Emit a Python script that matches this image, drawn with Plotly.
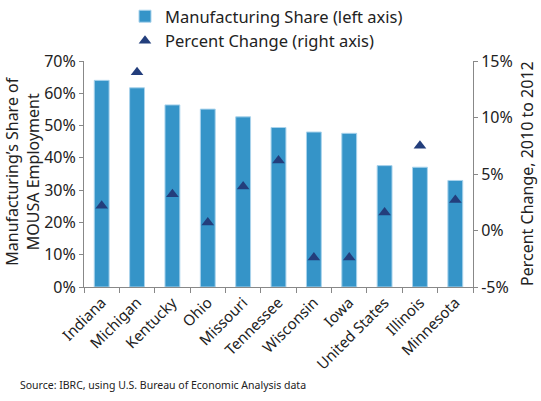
import plotly.graph_objects as go

categories = ["Indiana", "Michigan", "Kentucky", "Ohio", "Missouri", "Tennessee",
              "Wisconsin", "Iowa", "United States", "Illinois", "Minnesota"]
manufacturing_share = [64.0, 61.7, 56.4, 55.1, 52.7, 49.4, 48.0, 47.6, 37.6, 37.1, 33.0]
percent_change = [2.2, 14.0, 3.2, 0.7, 3.9, 6.2, -2.4, -2.4, 1.6, 7.5, 2.7]
left_ticks = [0, 10, 20, 30, 40, 50, 60, 70]
right_ticks = [-5, 0, 5, 10, 15]

FONT = "Noto Sans"
W, H = 541, 401
L, R, T, B = 84, 68, 61, 114
PW, PH = W - L - R, H - T - B

fig = go.Figure()
fig.add_trace(go.Bar(
    x=categories, y=manufacturing_share, name="Manufacturing Share (left axis)",
    marker=dict(color="#3594C8", line=dict(color="#A9D3EC", width=1)),
    width=0.42, yaxis="y",
))
fig.add_trace(go.Scatter(
    x=categories, y=percent_change, name="Percent Change (right axis)",
    mode="markers", marker=dict(symbol="triangle-up", size=11, color="#233E7C"),
    yaxis="y2",
))
fig.update_layout(
    width=W, height=H,
    margin=dict(l=L, r=R, t=T, b=B, autoexpand=False),
    plot_bgcolor="white", paper_bgcolor="white",
    font=dict(family=FONT, size=15, color="#222"),
    showlegend=True,
    legend=dict(x=125 / W, y=(PH + T + 1) / PH, xref="container", yref="paper",
                xanchor="left", yanchor="top",
                font=dict(size=16.5), itemwidth=30, tracegroupgap=0,
                bgcolor="rgba(0,0,0,0)"),
    xaxis=dict(range=[-0.5, len(categories) - 0.5], tickangle=-45, showline=True,
               linecolor="#888", ticks="outside",
               tickson="boundaries", ticklen=5, tickcolor="#888", tickfont=dict(size=15),
               automargin=False),
    yaxis=dict(range=[0, 70], tickvals=left_ticks, ticktext=[f"{v}%" for v in left_ticks],
               showgrid=False, showline=True, linecolor="#888", ticks="outside",
               ticklen=4, tickcolor="#888", zeroline=False, automargin=False,
               tickfont=dict(size=16)),
    yaxis2=dict(range=[-5, 15], tickvals=right_ticks, ticktext=[f"{v}%" for v in right_ticks],
                overlaying="y", side="right", showgrid=False, showline=True, linecolor="#888",
                ticks="outside", ticklen=4, tickcolor="#888", zeroline=False, automargin=False,
                tickfont=dict(size=16)),
    bargap=0.5,
)
fig.add_annotation(text="Manufacturing’s Share of<br>MOUSA Employment", textangle=-90,
                   xref="paper", yref="paper", x=(23 - L) / PW, y=0.51,
                   xanchor="center", yanchor="middle", showarrow=False, font=dict(size=16))
fig.add_annotation(text="Percent Change, 2010 to 2012", textangle=-90,
                   xref="paper", yref="paper", x=(527 - L) / PW, y=0.5,
                   xanchor="center", yanchor="middle", showarrow=False, font=dict(size=16))
fig.add_annotation(text="Source: IBRC, using U.S. Bureau of Economic Analysis data",
                   xref="paper", yref="paper", x=(18 - L) / PW, y=(287 - 385) / PH,
                   xanchor="left", yanchor="middle",
                   showarrow=False, font=dict(size=10.5))
fig.write_html("out.html", config={"displayModeBar": False},
               post_script="document.body.style.margin='0';")
